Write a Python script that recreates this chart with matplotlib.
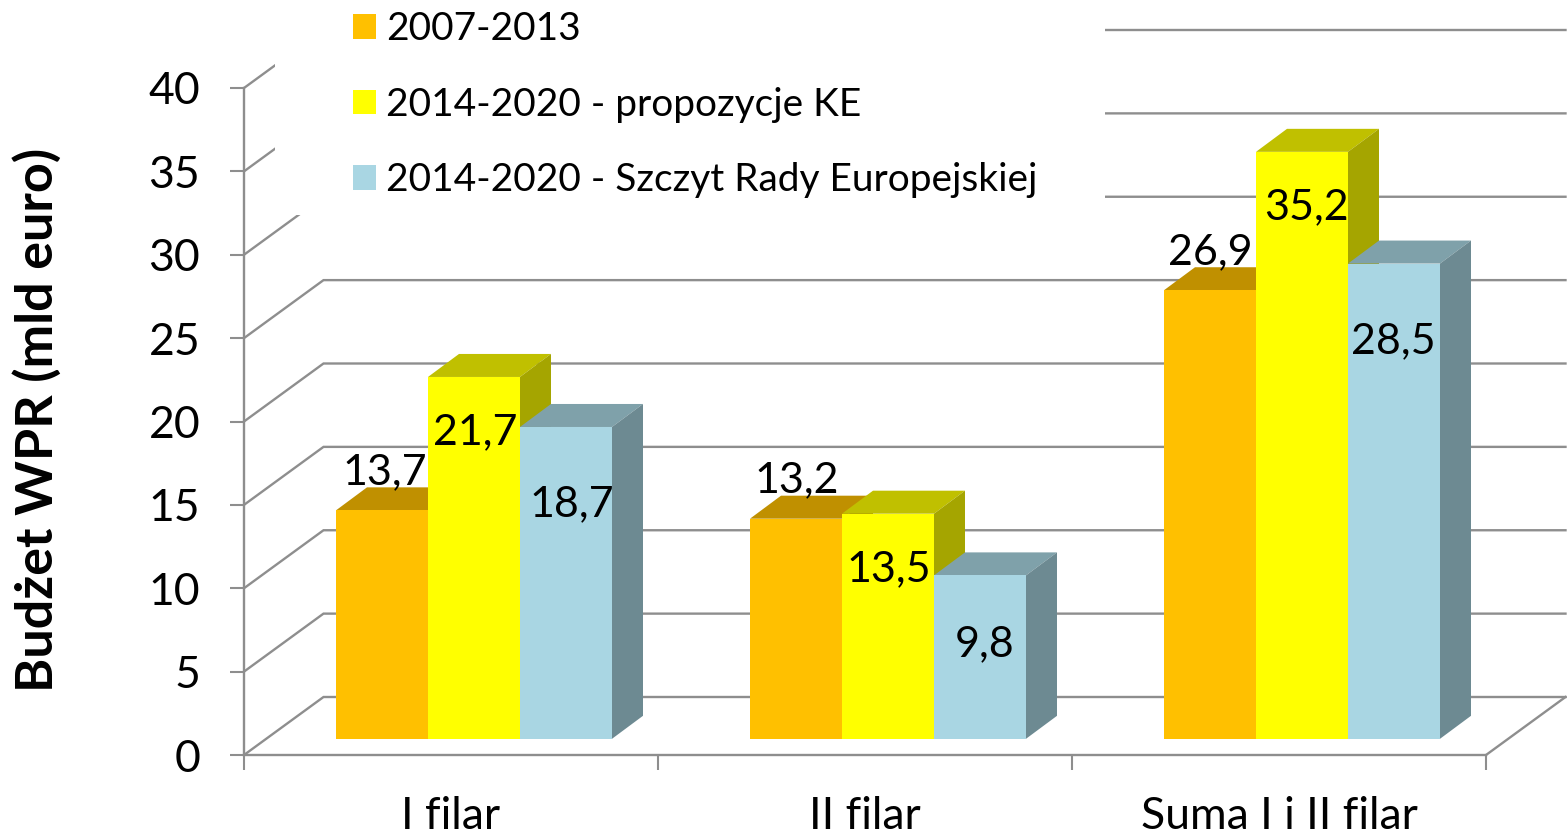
import numpy as np
import matplotlib
matplotlib.use('Agg')
import matplotlib.pyplot as plt
from matplotlib.patches import Patch, Polygon, Rectangle

categories = ['I filar', 'II filar', 'Suma I i II filar']
series_names = ['2007-2013', '2014-2020 - propozycje KE',
                '2014-2020 - Szczyt Rady Europejskiej']
v_2007 = [13.7, 13.2, 26.9]
v_ke = [21.7, 13.5, 35.2]
v_szczyt = [18.7, 9.8, 28.5]
label_2007 = ['13,7', '13,2', '26,9']
label_ke = ['21,7', '13,5', '35,2']
label_szczyt = ['18,7', '9,8', '28,5']
y_ticks = [0, 5, 10, 15, 20, 25, 30, 35, 40]

# colours for one bar: front, top, side
front = ['#FFC000', '#FFFF00', '#A9D6E3']
top = ['#C09000', '#C0C000', '#7FA1AA']
side = ['#A08000', '#A5A500', '#6D8A92']
grid = '#8E8E8E'

W, H = 1567, 835
# label offsets from top centre of each bar, in pixels
off_2007 = [(3, 38), (1, 38), (0, 38)]
off_ke = [(1, -55), (1, -56), (4, -55)]
off_szczyt = [(6, -77), (5, -69), (-1, -78)]

plt.rcParams['font.family'] = ['Lato', 'DejaVu Sans']

fig = plt.figure(figsize=(W / 100, H / 100), dpi=100)
ax = fig.add_axes([244 / W, 1 - 755 / H, (1486 - 244) / W, (755 - 88) / H])
ax.set_xlim(0, 3)
ax.set_ylim(0, 40)
ax.patch.set_visible(False)

px_x = 3 / (1486 - 244)
px_y = 40 / (755 - 88)
wall_dx, wall_dy = 79.5 * px_x, 58 * px_y
bar_dx, bar_dy = 31 * px_x, 23 * px_y
floor_dx, floor_dy = 24 * px_x, 16.2 * px_y
bar_w = 92 * px_x
gap = 68 * px_x

# back wall and floor
for v in y_ticks:
    ax.plot([0, wall_dx, 3 + wall_dx], [v, v + wall_dy, v + wall_dy],
            color=grid, lw=1.7, clip_on=False, zorder=1, solid_joinstyle='miter')
ax.plot([3, 3 + wall_dx], [0, wall_dy], color=grid, lw=1.7, clip_on=False, zorder=1)

# white box behind the legend hides part of the wall
ax.add_patch(Rectangle((275, H - 215), 1105 - 275, 215, transform=None,
                       fc='white', ec='none', clip_on=False, zorder=2))


def bar3d(x0, v, i):
    y0 = floor_dy
    y1 = floor_dy + v
    x1 = x0 + bar_w
    ax.add_patch(Polygon([(x0, y1), (x1, y1), (x1 + bar_dx, y1 + bar_dy),
                          (x0 + bar_dx, y1 + bar_dy)], fc=top[i], ec='none',
                         clip_on=False, zorder=3))
    ax.add_patch(Polygon([(x1, y0), (x1, y1), (x1 + bar_dx, y1 + bar_dy),
                          (x1 + bar_dx, y0 + bar_dy)], fc=side[i], ec='none',
                         clip_on=False, zorder=3))
    ax.add_patch(Rectangle((x0, y0), bar_w, v, fc=front[i], ec='none',
                           clip_on=False, zorder=3))


all_vals = [v_2007, v_ke, v_szczyt]
all_labels = [label_2007, label_ke, label_szczyt]
all_offs = [off_2007, off_ke, off_szczyt]
for c in range(len(categories)):
    for i in range(3):
        x0 = c + floor_dx + gap + i * bar_w
        bar3d(x0, all_vals[i][c], i)
for c in range(len(categories)):
    for i in range(3):
        x0 = c + floor_dx + gap + i * bar_w
        ax.annotate(all_labels[i][c], (x0 + bar_w / 2, floor_dy + all_vals[i][c]),
                    xytext=all_offs[i][c], textcoords='offset pixels',
                    ha='center', va='center', fontsize=31, color='black',
                    zorder=5, annotation_clip=False)

for s in ['top', 'right']:
    ax.spines[s].set_visible(False)
for s in ['left', 'bottom']:
    ax.spines[s].set_color(grid)
    ax.spines[s].set_linewidth(1.7)
    ax.spines[s].set_zorder(1.5)

ax.set_yticks(y_ticks)
ax.set_yticklabels([str(v) for v in y_ticks])
ax.tick_params(axis='y', length=10, width=1.5, color=grid, labelsize=32, pad=21.5)
ax.set_xticks(np.arange(4))
ax.set_xticklabels([])
ax.set_xticks(np.arange(3) + 0.5, minor=True)
ax.set_xticklabels(categories, minor=True)
ax.tick_params(axis='x', which='major', length=11, width=1.5, color=grid)
ax.tick_params(axis='x', which='minor', length=0, labelsize=32, pad=29.5)

fig.text(37 / W, 1 - 420 / H, 'Budżet WPR (mld euro)', rotation=90,
         ha='center', va='center', fontsize=37.5, fontweight='bold')

handles = [Patch(fc=f, ec='none') for f in front]
ax.legend(handles, series_names, loc='upper left',
          bbox_to_anchor=(353 / W, 1 - 11 / H), bbox_transform=fig.transFigure,
          frameon=False, fontsize=28, borderpad=0, borderaxespad=0,
          handlelength=0.59, handleheight=0.59, handletextpad=0.25,
          labelspacing=1.02).set_zorder(4)

fig.savefig('out.png', dpi=100)
